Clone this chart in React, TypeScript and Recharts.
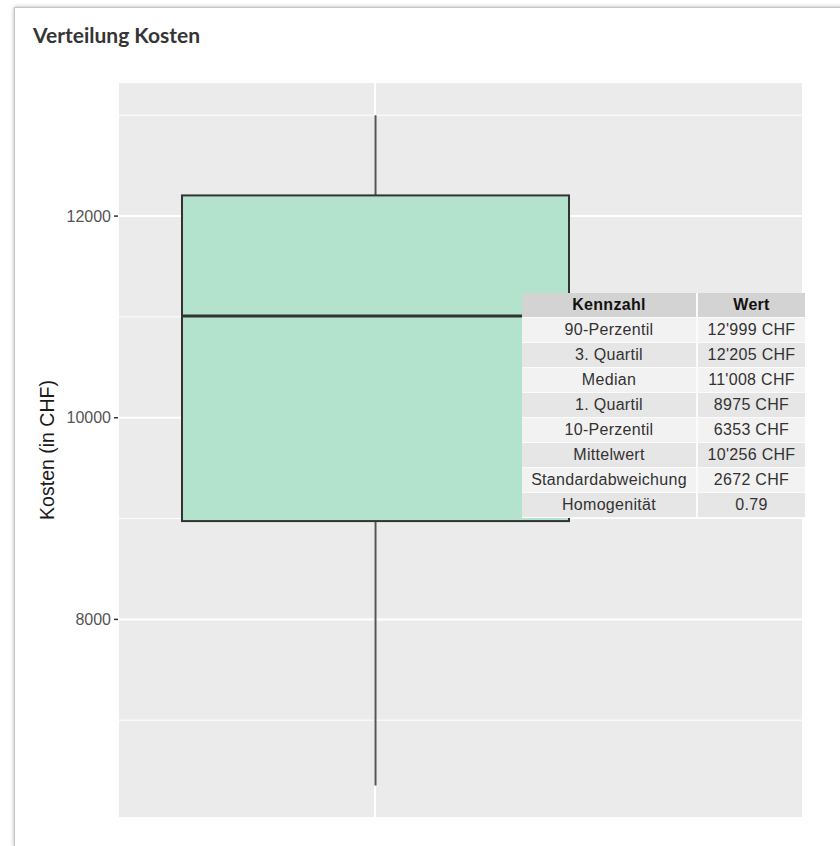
import React from 'react';
import { ComposedChart, Bar, XAxis, YAxis, CartesianGrid } from 'recharts';

const categories = ['Kosten'];
const p10Values = [6353];
const q1Values = [8975];
const medianValues = [11008];
const q3Values = [12205];
const p90Values = [12999];

const yTicks = [8000, 10000, 12000];
const yMinor = [7000, 9000, 11000, 13000];
const yDomain = [6040, 13320];

const tableLabels = ['90-Perzentil', '3. Quartil', 'Median', '1. Quartil', '10-Perzentil', 'Mittelwert', 'Standardabweichung', 'Homogenität'];
const tableValues = ["12'999 CHF", "12'205 CHF", "11'008 CHF", '8975 CHF', '6353 CHF', "10'256 CHF", '2672 CHF', '0.79'];

const data = categories.map((c, i) => ({
  category: c,
  p10: p10Values[i],
  q1: q1Values[i],
  median: medianValues[i],
  q3: q3Values[i],
  p90: p90Values[i],
}));

const BoxShape = (props: any) => {
  const { x, y, width, height, payload } = props;
  const top = Math.min(y, y + height);
  const h = Math.abs(height);
  const k = h / (payload.q3 - payload.q1);
  const cx = x + width / 2;
  const yP90 = top - (payload.p90 - payload.q3) * k;
  const yMed = top + (payload.q3 - payload.median) * k;
  const yP10 = top + h + (payload.q1 - payload.p10) * k;
  return (
    <g>
      <line x1={cx} x2={cx} y1={yP90} y2={top} stroke="#555" strokeWidth={2} />
      <line x1={cx} x2={cx} y1={top + h} y2={yP10} stroke="#555" strokeWidth={2} />
      <rect x={x} y={top} width={width} height={h} fill="#B3E2CD" stroke="#333" strokeWidth={2} />
      <line x1={x} x2={x + width} y1={yMed} y2={yMed} stroke="#333" strokeWidth={3} />
    </g>
  );
};

const YLabel = (props: any) => {
  const vb = props.viewBox || { x: 0, y: 83, width: 118, height: 734 };
  const cx = vb.x + 47;
  const cy = vb.y + vb.height / 2;
  return (
    <text
      x={cx}
      y={cy}
      transform={`rotate(-90 ${cx} ${cy})`}
      textAnchor="middle"
      dominantBaseline="central"
      fontFamily="'Liberation Sans', Arial, sans-serif"
      fontSize={19.5}
      fill="#1a1a1a"
    >
      Kosten (in CHF)
    </text>
  );
};

export default function App() {
  const cellFont = "'Liberation Sans', Arial, sans-serif";
  return (
    <div style={{ position: 'absolute', left: 0, top: 0, width: 840, height: 846, overflow: 'hidden', background: '#fff' }}>
      <div
        style={{
          position: 'absolute',
          left: 14,
          top: 7,
          width: 840,
          height: 838,
          border: '1px solid #c4c4c4',
          boxShadow: '0 0 4px rgba(0,0,0,0.3)',
          background: '#fff',
        }}
      />
      <div
        style={{
          position: 'absolute',
          left: 33,
          top: 24,
          fontFamily: 'Lato, sans-serif',
          fontWeight: 700,
          fontSize: 21,
          lineHeight: '21px',
          color: '#353535',
          whiteSpace: 'nowrap',
        }}
      >
        Verteilung Kosten
      </div>
      <div style={{ position: 'absolute', left: 0, top: 0 }}>
        <ComposedChart width={840} height={846} data={data} margin={{ top: 83, right: 37, bottom: 29, left: 0 }}>
          <CartesianGrid
            fill="#EBEBEB"
            fillOpacity={1}
            stroke="#fff"
            strokeWidth={2}
            horizontalValues={yTicks}
            vertical={true}
          />
          <CartesianGrid
            stroke="#fff"
            strokeWidth={1}
            horizontalValues={yMinor}
            vertical={false}
          />
          <XAxis dataKey="category" type="category" hide padding={{ left: 0, right: 171 }} />
          <YAxis
            type="number"
            domain={yDomain}
            allowDataOverflow
            ticks={yTicks}
            width={118}
            axisLine={false}
            tickSize={4}
            tickMargin={3}
            tickLine={{ stroke: '#333', strokeWidth: 1.5 }}
            tick={{ fill: '#555', fontSize: 16, fontFamily: cellFont }}
            label={{ content: YLabel }}
          />
          <Bar
            dataKey={(d: any) => [d.q1, d.q3]}
            barSize={387}
            shape={BoxShape}
            isAnimationActive={false}
          />
        </ComposedChart>
      </div>
      <div
        style={{
          position: 'absolute',
          left: 522,
          top: 293,
          width: 283,
          background: '#fbfbfb',
          fontFamily: cellFont,
          fontSize: 16,
          letterSpacing: 0.3,
        }}
      >
        <div style={{ display: 'flex', height: 24, marginBottom: 1 }}>
          <div style={{ width: 174, background: '#D3D3D3', textAlign: 'center', lineHeight: '24px', fontWeight: 700, color: '#111' }}>Kennzahl</div>
          <div style={{ width: 107, marginLeft: 2, background: '#D3D3D3', textAlign: 'center', lineHeight: '24px', fontWeight: 700, color: '#111' }}>Wert</div>
        </div>
        {tableLabels.map((lab, i) => {
          const bg = i % 2 === 0 ? '#F2F2F2' : '#E6E6E6';
          return (
            <div key={lab} style={{ display: 'flex', height: 24, marginBottom: 1 }}>
              <div style={{ width: 174, background: bg, textAlign: 'center', lineHeight: '24px', color: '#333', whiteSpace: 'nowrap' }}>{lab}</div>
              <div style={{ width: 107, marginLeft: 2, background: bg, textAlign: 'center', lineHeight: '24px', color: '#333', whiteSpace: 'nowrap' }}>{tableValues[i]}</div>
            </div>
          );
        })}
      </div>
    </div>
  );
}
